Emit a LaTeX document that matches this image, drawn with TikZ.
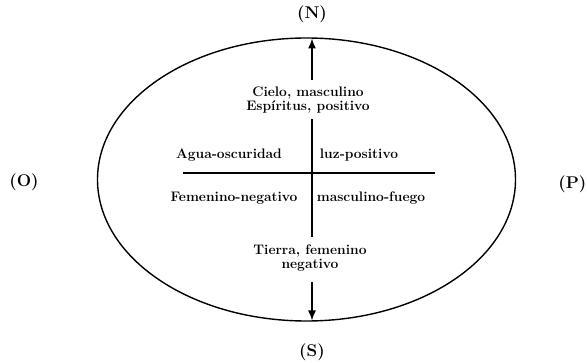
\documentclass[tikz,border=0pt]{standalone}
\usepackage{tikz}
\usetikzlibrary{arrows.meta, positioning, shapes.geometric}

\begin{document}
\begin{tikzpicture}[x=1pt, y=-1pt, >={Latex[length=10pt,width=8pt]},
  lbl/.style={font=\fontsize{13.8}{14}\selectfont\bfseries, inner sep=1pt, align=center},
  pole/.style={font=\fontsize{17}{18}\selectfont\bfseries, inner sep=0pt},
  rim/.style={draw, line width=1.4pt}]
  \useasboundingbox (0,0) rectangle (587,363);
  % outer ellipse
  \node[ellipse, rim, minimum width=418pt, minimum height=283pt, inner sep=0pt] (orb) at (306.5,179.5) {};
  % cardinal points
  \node[pole] (norte) at (312,14) {(N)};
  \node[pole] (sur) at (312,352) {(S)};
  \node[pole] (oeste) at (24,182) {(O)};
  \node[pole, anchor=east] (este) at (586.5,184) {(P)};
  % inner labels
  \node[lbl] (cielo) at (308,100) {Cielo, masculino\\Espíritus, positivo};
  \node[lbl] (tierra) at (310,258) {Tierra, femenino\\negativo};
  \node[lbl] (agua) at (229,155) {Agua-oscuridad};
  \node[lbl] (luz) at (359,155) {luz-positivo};
  \node[lbl] (femen) at (234,198) {Femenino-negativo};
  \node[lbl] (mascu) at (371,198) {masculino-fuego};
  % arrows to the rim
  \coordinate (ntip) at (312,38.5);
  \coordinate (stip) at (312,320.5);
  \coordinate (nfoot) at (312,80);
  \coordinate (sfoot) at (312,282);
  \draw[line width=1.4pt, ->] (nfoot) -- (ntip);
  \draw[line width=1.4pt, ->] (sfoot) -- (stip);
  % cross
  \coordinate (ctop) at (312,119);
  \coordinate (cbot) at (312,237);
  \coordinate (cleft) at (183,173);
  \coordinate (cright) at (435,173);
  \draw[line width=1.4pt] (ctop) -- (cbot);
  \draw[line width=1.4pt] (cleft) -- (cright);
\end{tikzpicture}
\end{document}
